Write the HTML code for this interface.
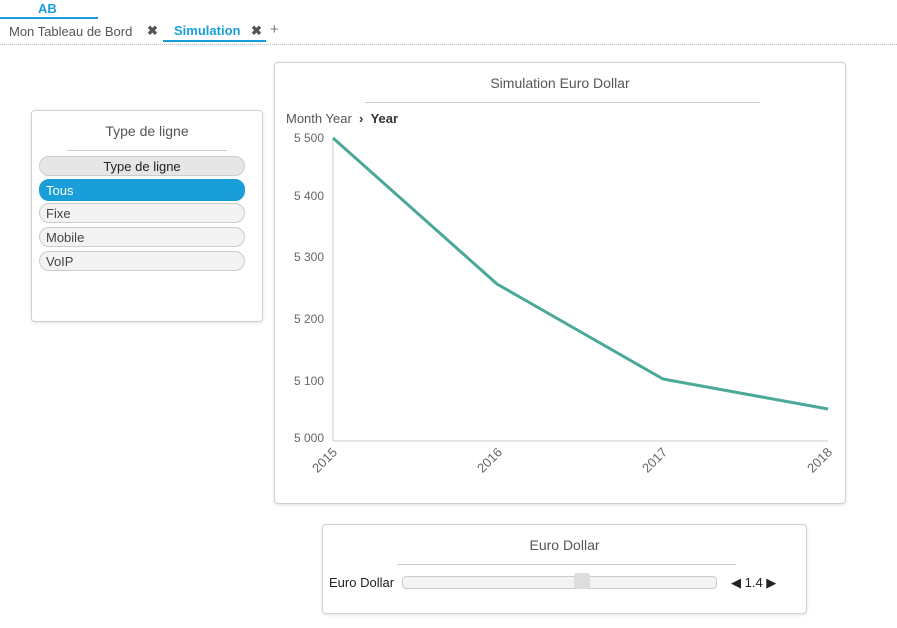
<!DOCTYPE html>
<html><head><meta charset="utf-8"><style>
body{margin:0;width:897px;height:628px;background:#fff;font-family:"Liberation Sans",sans-serif;position:relative;overflow:hidden;color:#444}
.a{position:absolute}
.panel{position:absolute;border:1px solid #d0d0d0;border-radius:4px;background:#fff;box-shadow:0 1px 3px rgba(0,0,0,0.12)}
.pill{position:absolute;left:7px;width:206px;height:20px;border:1px solid #ccc;border-radius:10px;background:#f3f3f3;font-size:13px;line-height:20px;box-sizing:border-box;padding-left:6px;color:#444}
</style></head><body>
<div class="a" style="left:38px;top:1px;font-size:13px;font-weight:bold;color:#1a9ed9">AB</div>
<div class="a" style="left:0;top:17px;width:98px;height:2px;background:#1a9ed9"></div>
<div class="a" style="left:9px;top:24px;font-size:13px;color:#555">Mon Tableau de Bord</div>
<div class="a" style="left:147px;top:23px;font-size:13px;font-weight:bold;color:#555">✖</div>
<div class="a" style="left:174px;top:23px;font-size:13px;font-weight:bold;color:#1a9ed9">Simulation</div>
<div class="a" style="left:251px;top:23px;font-size:13px;font-weight:bold;color:#555">✖</div>
<div class="a" style="left:270px;top:21px;font-size:15px;color:#777">+</div>
<div class="a" style="left:163px;top:40px;width:103px;height:2px;background:#1a9ed9"></div>
<div class="a" style="left:0;top:44px;width:897px;border-top:1px dotted #bbb"></div>

<div class="panel" style="left:31px;top:110px;width:230px;height:210px">
<div class="a" style="left:0;width:230px;top:12px;text-align:center;font-size:14px;color:#555">Type de ligne</div>
<div class="a" style="left:35px;top:39px;width:160px;border-top:1px solid #ccc"></div>
<div class="pill" style="top:45px;text-align:center;padding:0;background:#e6e6e6;color:#222">Type de ligne</div>
<div class="pill" style="top:68px;height:22px;line-height:22px;background:#1a9ed9;border-color:#1a9ed9;color:#fff">Tous</div>
<div class="pill" style="top:92px">Fixe</div>
<div class="pill" style="top:116px">Mobile</div>
<div class="pill" style="top:140px">VoIP</div>
</div>

<div class="panel" style="left:274px;top:62px;width:570px;height:440px">
<div class="a" style="left:0;width:570px;top:12px;text-align:center;font-size:14px;color:#555">Simulation Euro Dollar</div>
<div class="a" style="left:90px;top:39px;width:395px;border-top:1px solid #ccc"></div>
<div class="a" style="left:11px;top:48px;font-size:13px;color:#555">Month Year &nbsp;<b style="color:#333">›</b>&nbsp; <b style="color:#333">Year</b></div>
</div>
<svg class="a" style="left:0;top:0" width="897" height="628">
<g stroke="#ccc" fill="none"><line x1="333" y1="138" x2="333" y2="441"/><line x1="333" y1="441" x2="828" y2="441"/></g>
<g font-family="Liberation Sans" font-size="12" fill="#666" text-anchor="end">
<text x="324" y="142">5 500</text><text x="324" y="200">5 400</text><text x="324" y="261">5 300</text><text x="324" y="323">5 200</text><text x="324" y="385">5 100</text><text x="324" y="442">5 000</text>
</g>
<g font-family="Liberation Sans" font-size="13" fill="#666" text-anchor="end">
<text transform="translate(338,453) rotate(-45)">2015</text>
<text transform="translate(503,453) rotate(-45)">2016</text>
<text transform="translate(668,453) rotate(-45)">2017</text>
<text transform="translate(833,453) rotate(-45)">2018</text>
</g>
<polyline points="333,138 497,284 663,379 828,409" fill="none" stroke="#4aa898" stroke-width="3"/>
</svg>

<div class="panel" style="left:322px;top:524px;width:483px;height:88px">
<div class="a" style="left:0;width:483px;top:12px;text-align:center;font-size:14px;color:#555">Euro Dollar</div>
<div class="a" style="left:74px;top:39px;width:339px;border-top:1px solid #ccc"></div>
<div class="a" style="left:6px;top:50px;font-size:13px;color:#222">Euro Dollar</div>
<div class="a" style="left:79px;top:51px;width:313px;height:11px;border:1px solid #ccc;border-radius:4px;background:#f3f3f3"></div>
<div class="a" style="left:251px;top:48px;width:16px;height:16px;border-radius:3px;background:#ddd"></div>
<div class="a" style="left:408px;top:50px;font-size:13px;color:#222">◀ 1.4 ▶</div>
</div>
</body></html>
